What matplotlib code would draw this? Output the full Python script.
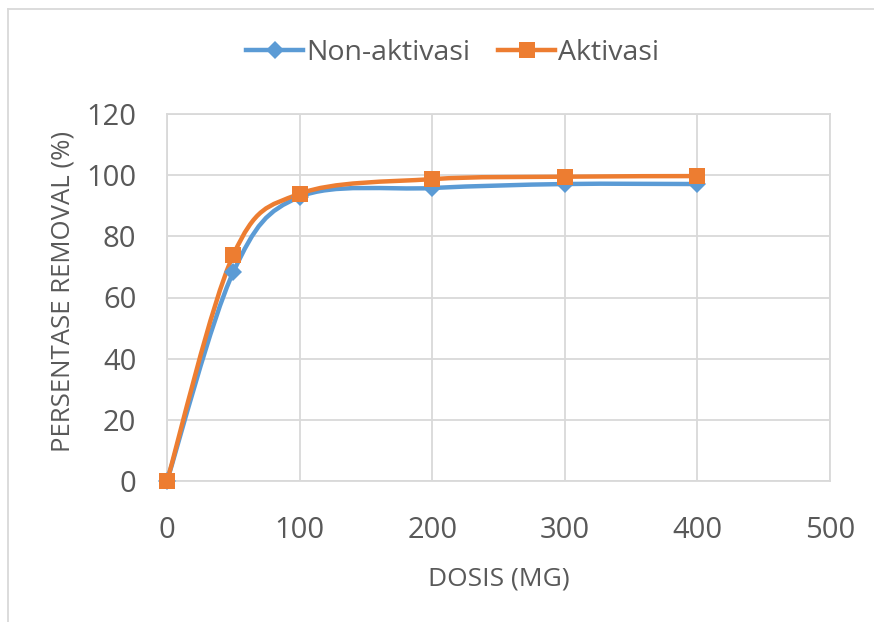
import matplotlib
matplotlib.use("Agg")
import matplotlib.pyplot as plt
from matplotlib.path import Path
from matplotlib.patches import PathPatch
from matplotlib.lines import Line2D
import numpy as np

dosis = [0, 50, 100, 200, 300, 400]
non_aktivasi = [0, 68.3, 92.9, 95.8, 97.1, 97.1]
aktivasi = [0, 73.9, 93.9, 98.7, 99.5, 99.7]
series_names = ["Non-aktivasi", "Aktivasi"]
xticks = [0, 100, 200, 300, 400, 500]
yticks = [0, 20, 40, 60, 80, 100, 120]

BLUE = "#5B9BD5"
ORANGE = "#ED7D31"
TXT = "#595959"
GRID = "#D9D9D9"

plt.rcParams["font.family"] = ["Open Sans", "DejaVu Sans"]

fig = plt.figure(figsize=(8.74, 6.22), dpi=100)
ax = fig.add_axes([167/874, 1-481/622, (830-167)/874, (481-114)/622])


def smooth_path(xs, ys):
    pts = np.column_stack([xs, ys]).astype(float)
    n = len(pts)
    verts = [pts[0]]
    codes = [Path.MOVETO]
    for i in range(n - 1):
        p0 = pts[i - 1] if i > 0 else pts[i]
        p1 = pts[i]
        p2 = pts[i + 1]
        p3 = pts[i + 2] if i + 2 < n else pts[i + 1]
        c1 = p1 + (p2 - p0) / 6.0
        c2 = p2 - (p3 - p1) / 6.0
        verts += [c1, c2, p2]
        codes += [Path.CURVE4] * 3
    return Path(verts, codes)


for ys, col, mk, ms in [(non_aktivasi, BLUE, "D", 9), (aktivasi, ORANGE, "s", 12)]:
    patch = PathPatch(smooth_path(dosis, ys), facecolor="none", edgecolor=col,
                      lw=3.2, capstyle="round", zorder=3, clip_on=False)
    ax.add_patch(patch)
    ax.plot(dosis, ys, linestyle="none", marker=mk, markersize=ms, color=col,
            markeredgewidth=0, zorder=4, clip_on=False)

ax.set_xlim(0, 500)
ax.set_ylim(0, 120)
ax.set_xticks(xticks)
ax.set_yticks(yticks)
ax.grid(True, color=GRID, lw=1.3)
ax.set_axisbelow(True)
for s in ax.spines.values():
    s.set_color(GRID)
    s.set_linewidth(1.3)
ax.tick_params(length=0, labelsize=21, labelcolor=TXT)
ax.tick_params(axis="y", pad=22)
ax.tick_params(axis="x", pad=25)

fig.text(499/874, 1-579/622, "DOSIS (MG)", fontsize=19, color=TXT,
         ha="center", va="center")
fig.text(63/874, 1-291/622, "PERSENTASE REMOVAL (%)", fontsize=18.5, color=TXT,
         ha="center", va="center", rotation=90)

handles = [Line2D([], [], color=BLUE, lw=3.2, marker="D", markersize=9, markeredgewidth=0),
           Line2D([], [], color=ORANGE, lw=3.2, marker="s", markersize=12, markeredgewidth=0)]
leg = fig.legend(handles, series_names, loc="center", bbox_to_anchor=(0.518, 1-53/622),
                 ncol=2, frameon=False, prop={"size": 20.5},
                 handlelength=2.0, handletextpad=0.1, columnspacing=1.0)
for t in leg.get_texts():
    t.set_color(TXT)

fig.add_artist(Line2D([8/874, 1.0], [1-9/622, 1-9/622], transform=fig.transFigure,
                      color=GRID, lw=1.3))
fig.add_artist(Line2D([8/874, 8/874], [0, 1-9/622], transform=fig.transFigure,
                      color=GRID, lw=1.3))

fig.savefig("out.png", dpi=100)
